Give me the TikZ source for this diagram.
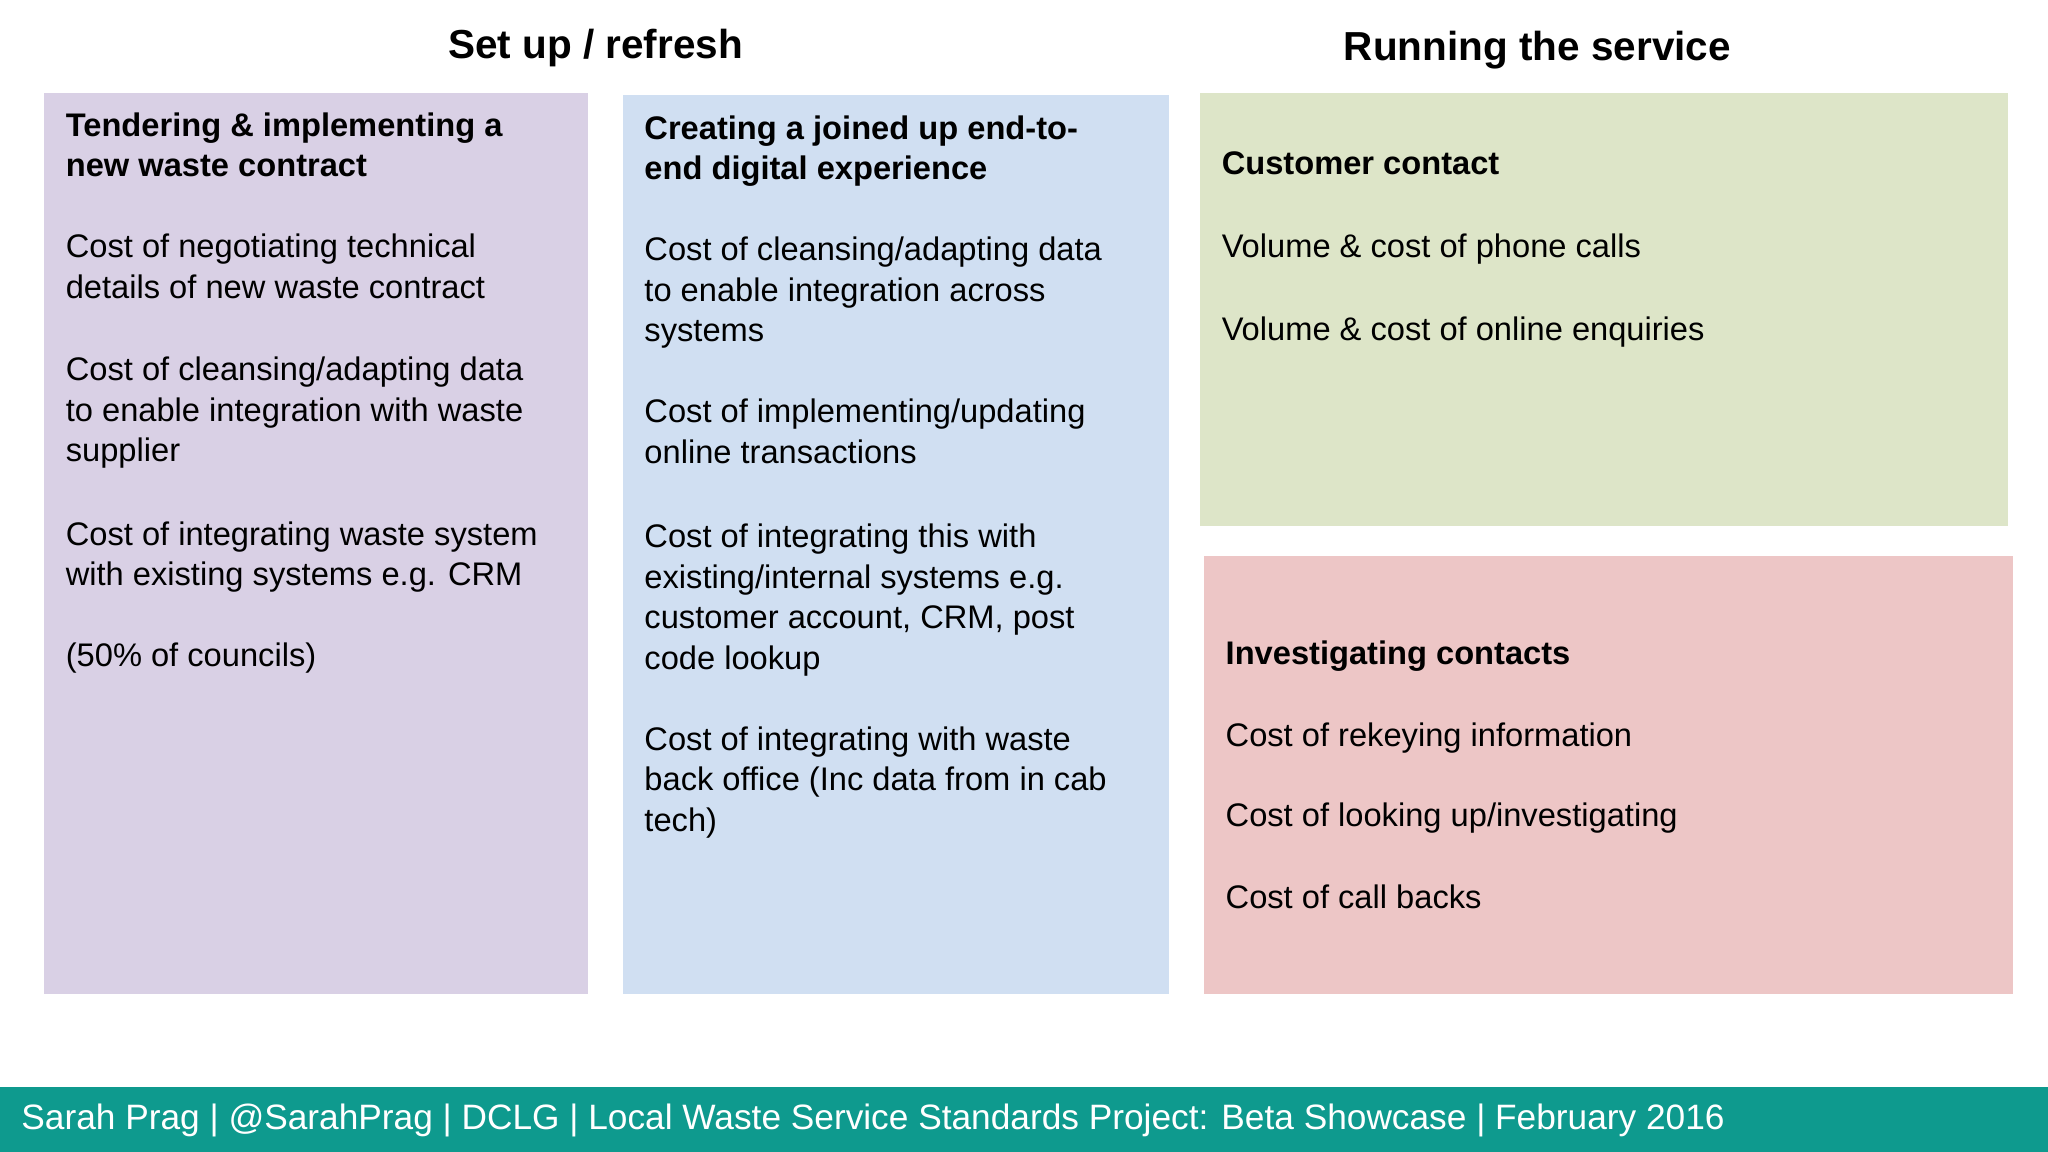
\documentclass[tikz,border=0pt]{standalone}
\usepackage{fontspec}
\setmainfont{Liberation Sans}
\definecolor{cpurple}{HTML}{D9D0E5}
\definecolor{cblue}{HTML}{D0DFF2}
\definecolor{cgreen}{HTML}{DDE5C8}
\definecolor{cred}{HTML}{EDC6C6}
\definecolor{cteal}{HTML}{0E9A8E}
\begin{document}
\begin{tikzpicture}[x=0.5pt,y=-0.5pt,
  txt/.style={anchor=north west,inner sep=0pt,align=left,font=\fontsize{12.5}{15.5}\selectfont,text=black},
  hd/.style={txt,font=\fontsize{12.5}{15.5}\selectfont\bfseries},
  ttl/.style={inner sep=0pt,font=\fontsize{15.5}{18}\selectfont\bfseries}]
\useasboundingbox[fill=white] (0,0) rectangle (1568,882);
\fill[cpurple] (34,71) rectangle (450,761);
\fill[cblue] (477,73) rectangle (895,761);
\fill[cgreen] (919,71) rectangle (1537,403);
\fill[cred] (922,426) rectangle (1541,761);
\fill[cteal] (0,832) rectangle (1568,882);
\node[ttl] (t1) at (456,37) {Set up / refresh};
\node[ttl] (t2) at (1177,38) {Running the service};
% purple
\node[hd] (p0) at (50,86) {Tendering \& implementing a\\new waste contract};
\node[txt] (p1) at (50,179) {Cost of negotiating technical\\details of new waste contract};
\node[txt] (p2) at (50,273) {Cost of cleansing/adapting data\\to enable integration with waste\\supplier};
\node[txt] (p3) at (50,399) {Cost of integrating waste system\\with existing systems e.g. CRM};
\node[txt] (p4) at (50,492) {(50\% of councils)};
% blue
\node[hd] (b0) at (493,88) {Creating a joined up end-to-\\end digital experience};
\node[txt] (b1) at (493,181) {Cost of cleansing/adapting data\\to enable integration across\\systems};
\node[txt] (b2) at (493,305) {Cost of implementing/updating\\online transactions};
\node[txt] (b3) at (493,401) {Cost of integrating this with\\existing/internal systems e.g.\\customer account, CRM, post\\code lookup};
\node[txt] (b4) at (493,556) {Cost of integrating with waste\\back office (Inc data from in cab\\tech)};
% green
\node[hd] (g0) at (935,116) {Customer contact};
\node[txt] (g1) at (935,179) {Volume \& cost of phone calls};
\node[txt] (g2) at (935,242) {Volume \& cost of online enquiries};
% red
\node[hd] (r0) at (938,490) {Investigating contacts};
\node[txt] (r1) at (938,553) {Cost of rekeying information};
\node[txt] (r2) at (938,614) {Cost of looking up/investigating};
\node[txt] (r3) at (938,677) {Cost of call backs};
\node[anchor=west,inner sep=0pt,text=white,font=\fontsize{13.5}{16}\selectfont] (f) at (16,858) {Sarah Prag | @SarahPrag | DCLG | Local Waste Service Standards Project: Beta Showcase | February 2016};
\end{tikzpicture}
\end{document}
